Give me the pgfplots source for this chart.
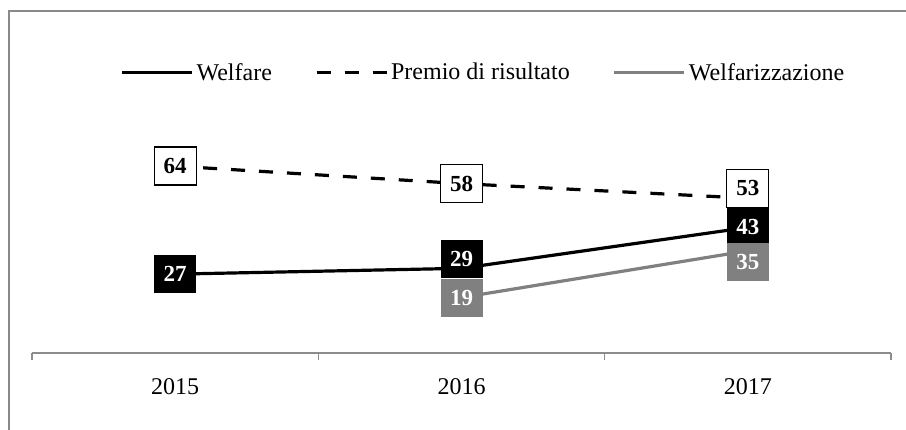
\documentclass[border=0pt]{standalone}
\usepackage{pgfplots}
\pgfplotsset{compat=1.18}
\usepackage{pgfplotstable}
\usepackage{fontspec}
\setmainfont{Liberation Serif}
\definecolor{bordergray}{HTML}{898989}
\definecolor{axisgray}{HTML}{8C8C8C}
\definecolor{seriesgray}{HTML}{808080}

\pgfplotstableread{
x y dy
0 27 0
1 29 9
2 43 0
}\welfare
\pgfplotstableread{
x y dy
0 64 0
1 58 0
2 53 10
}\premio
\pgfplotstableread{
x y dy
1 19 0
2 35 -11
}\welfarizz

\begin{document}
\begin{tikzpicture}
\begin{axis}[
  scale only axis, width=859pt, height=292pt,
  xmin=-0.5, xmax=2.5, ymin=0, ymax=100,
  axis x line*=bottom, axis y line=none,
  x axis line style={draw=axisgray, line width=1.3pt, -},
  xtick={0,1,2}, xticklabels={2015,2016,2017},
  major tick length=0pt,
  xticklabel style={font=\fontsize{24}{28}\selectfont, anchor=center, yshift=-34pt},
  extra x ticks={-0.5,0.5,1.5,2.5}, extra x tick labels={},
  extra x tick style={major tick length=7pt, tick align=outside, xtick style={draw=axisgray, line width=1.3pt}},
  clip=false,
  /pgf/number format/assume math mode=true,
  legend columns=3,
  legend style={draw=none, fill=none, at={(0.526,0.961)}, anchor=center,
    font=\fontsize{24}{28}\selectfont, nodes={inner sep=3pt},
    /tikz/every even column/.append style={column sep=40pt}},
  legend image code/.code={\draw[#1] (0pt,0pt) -- (70pt,0pt);},
]
\addplot[black, line width=3.2pt] table[x=x,y=y]{\welfare};
\addlegendentry{Welfare}
\addplot[black, line width=3.2pt, dash pattern=on 14pt off 14pt] table[x=x,y=y]{\premio};
\addlegendentry{Premio di risultato}
\addplot[seriesgray, line width=3.2pt] table[x=x,y=y]{\welfarizz};
\addlegendentry{Welfarizzazione}

\addplot[draw=none, forget plot, nodes near coords, point meta=y,
  visualization depends on={\thisrow{dy} \as \dy},
  every node near coord/.append style={anchor=center, yshift=\dy pt, fill=black, text=white,
    font=\fontsize{23}{23}\selectfont\bfseries, minimum width=42pt, minimum height=38pt, inner sep=0pt}]
  table[x=x,y=y]{\welfare};
\addplot[draw=none, forget plot, nodes near coords, point meta=y,
  visualization depends on={\thisrow{dy} \as \dy},
  every node near coord/.append style={anchor=center, yshift=\dy pt, fill=white, draw=black, line width=1.3pt, text=black,
    font=\fontsize{23}{23}\selectfont\bfseries, minimum width=42pt, minimum height=38pt, inner sep=0pt}]
  table[x=x,y=y]{\premio};
\addplot[draw=none, forget plot, nodes near coords, point meta=y,
  visualization depends on={\thisrow{dy} \as \dy},
  every node near coord/.append style={anchor=center, yshift=\dy pt, fill=seriesgray, text=white,
    font=\fontsize{23}{23}\selectfont\bfseries, minimum width=42pt, minimum height=38pt, inner sep=0pt}]
  table[x=x,y=y]{\welfarizz};
\end{axis}
\draw[bordergray, line width=2pt] (-23pt,-100pt) -- (-23pt,342pt) -- (900pt,342pt);
\pgfresetboundingbox
\useasboundingbox (-32pt,-77pt) rectangle (874pt,353pt);
\end{tikzpicture}
\end{document}
